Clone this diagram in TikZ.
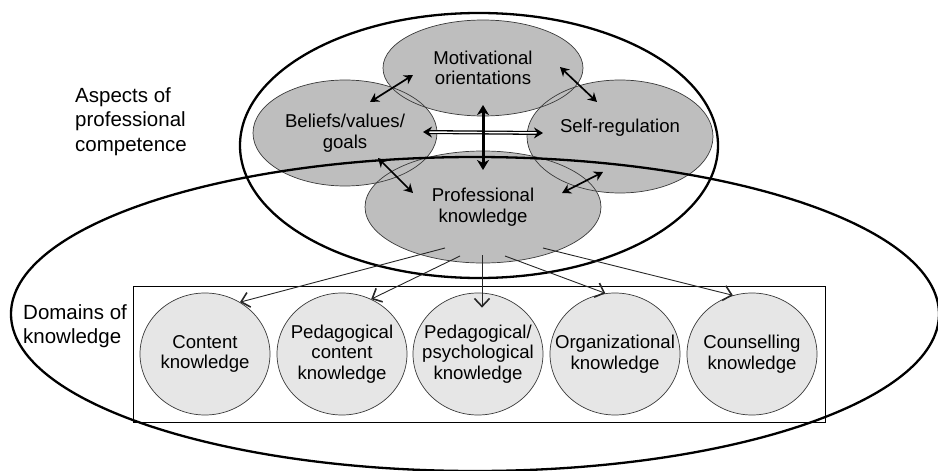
\documentclass[tikz,border=0pt]{standalone}
\usepackage{fontspec}
\setmainfont{Liberation Sans}
\usetikzlibrary{arrows.meta,calc,shapes.geometric}
\definecolor{gfill}{HTML}{BEBEBE}
\definecolor{cfill}{HTML}{E6E6E6}
\definecolor{eline}{HTML}{3A3A3A}
\tikzset{
  gell/.style={ellipse, fill=gfill, inner sep=-30pt, align=center,
    font=\fontsize{18.6}{20.5}\selectfont},
  gout/.style={draw=eline, line width=0.7pt},
  kcirc/.style={ellipse, fill=cfill, draw=eline, line width=0.7pt, inner sep=-40pt,
    minimum width=130pt, minimum height=122pt, align=center,
    font=\fontsize{18.6}{20.5}\selectfont},
  bigline/.style={draw=black, line width=2.3pt},
  frame/.style={draw=black, line width=0.8pt},
  sidelabel/.style={anchor=north west, inner sep=0pt, align=left,
    font=\fontsize{20.5}{24.5}\selectfont},
  dbl/.style={line width=1.7pt, {Stealth[length=9pt,width=10pt,inset=3pt]}-{Stealth[length=9pt,width=10pt,inset=3pt]}},
  dblline/.style={double, double distance=1.4pt, line width=1.3pt, {Stealth[length=9pt,width=11pt,inset=3pt]}-{Stealth[length=9pt,width=11pt,inset=3pt]}},
  vthick/.style={line width=3pt, {Stealth[length=10pt,width=12pt,inset=3pt]}-{Stealth[length=10pt,width=12pt,inset=3pt]}},
  thinarr/.style={draw=black!85, line width=0.9pt, -{Straight Barb[length=8pt,width=15pt,line width=1.6pt]}}
}
\begin{document}
\begin{tikzpicture}[x=1pt,y=-1pt]
\useasboundingbox (0,0) rectangle (938,471);
% gray ellipses (fills with text)
\node[gell, minimum width=184pt, minimum height=106pt] (bel) at (345,133) {Beliefs/values/\\goals};
\node[gell, minimum width=186pt, minimum height=113pt, text depth=20.5pt] (self) at (620,136.5) {Self-regulation};
\node[gell, minimum width=200pt, minimum height=96pt] (mot) at (483,68) {Motivational\\orientations};
\node[gell, minimum width=236pt, minimum height=112pt] (prof) at (483,207) {Professional\\knowledge};
% outlines of gray ellipses
\draw[gout] (bel.center) ellipse [x radius=92pt, y radius=53pt];
\draw[gout] (self.center) ellipse [x radius=93pt, y radius=56.5pt];
\draw[gout] (mot.center) ellipse [x radius=100pt, y radius=48pt];
\draw[gout] (prof.center) ellipse [x radius=118pt, y radius=56pt];
% frame and circles
\draw[frame] (133,286) rectangle (825,422);
\node[kcirc] (c1) at (205,354) {Content\\knowledge};
\node[kcirc] (c2) at (342,354) {Pedagogical\\content\\knowledge};
\node[kcirc] (c3) at (478,354) {Pedagogical/\\psychological\\knowledge};
\node[kcirc] (c4) at (615,354) {Organizational\\knowledge};
\node[kcirc] (c5) at (752,354) {Counselling\\knowledge};
% big ellipses
\draw[bigline] (479,145.5) ellipse [x radius=239pt, y radius=132.5pt];
\draw[bigline] (475,314) ellipse [x radius=464pt, y radius=157pt];
% side labels
\node[sidelabel] (aspects) at (75,87) {Aspects of\\professional\\competence};
\node[sidelabel] (domains) at (23,304) {Domains of\\knowledge};
% double arrows among aspects
\draw[dbl] ($(bel.center)+(25,-31)$) -- ($(mot.center)+(-70,7)$);
\draw[dbl] ($(mot.center)+(77,-1)$) -- ($(self.center)+(-23,-34.5)$);
\draw[dblline] ($(bel.center)+(78,-1)$) -- ($(self.center)+(-77,-3.5)$);
\draw[vthick] ($(mot.center)+(0,37)$) -- ($(prof.center)+(0,-37)$);
\draw[dbl] ($(bel.center)+(33,25)$) -- ($(prof.center)+(-70,-14)$);
\draw[dbl] ($(self.center)+(-17,35.5)$) -- ($(prof.center)+(79,-14)$);
% arrows to domains
\draw[thinarr] ($(prof.center)+(-38,41)$) -- (c1.56);
\draw[thinarr] ($(prof.center)+(-23,49)$) -- (c2.62);
\draw[thinarr] ($(prof.center)+(-1,48)$) -- ($(c3.north)+(4,15)$);
\draw[thinarr] ($(prof.center)+(22,49)$) -- (c4.99);
\draw[thinarr] ($(prof.center)+(60,41)$) -- (c5.108);
\end{tikzpicture}
\end{document}
